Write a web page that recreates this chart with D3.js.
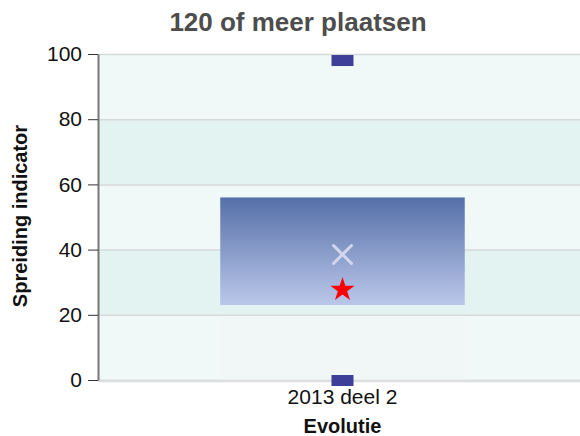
<!DOCTYPE html>
<html>
<head>
<meta charset="utf-8">
<script src="https://cdn.jsdelivr.net/npm/d3@7"></script>
<style>
  body { margin: 0; background: #fff; font-family: "Liberation Sans", Arial, sans-serif; }
</style>
</head>
<body>
<div id="chart"></div>
<script>
const categories = ["2013 deel 2"];
const boxLow = [23];
const boxHigh = [56];
const minValues = [0];
const maxValues = [98];
const meanValues = [38.5];
const ownValues = [28];
const yTicks = [0, 20, 40, 60, 80, 100];

const width = 580;
const height = 436;
const margin = { top: 54, right: 0, bottom: 56, left: 98 };

const svg = d3.select("#chart")
  .append("svg")
  .attr("width", width)
  .attr("height", height)
  .attr("font-family", "Liberation Sans, Arial, sans-serif");

const defs = svg.append("defs");
const grad = defs.append("linearGradient")
  .attr("id", "boxGrad")
  .attr("x1", 0).attr("y1", 0).attr("x2", 0).attr("y2", 1);
grad.append("stop").attr("offset", "0%").attr("stop-color", "#5670a8");
grad.append("stop").attr("offset", "100%").attr("stop-color", "#bac7ea");

const xScale = d3.scaleBand()
  .domain(categories)
  .range([margin.left, 587])
  .paddingInner(0)
  .paddingOuter(0.5);

const yScale = d3.scaleLinear()
  .domain([0, 100])
  .range([height - margin.bottom, margin.top]);

// alternating bands
const bandEdges = d3.pairs(yTicks);
svg.append("g")
  .selectAll("rect")
  .data(bandEdges)
  .join("rect")
  .attr("x", margin.left)
  .attr("width", width - margin.left)
  .attr("y", (d) => yScale(d[1]))
  .attr("height", (d) => yScale(d[0]) - yScale(d[1]))
  .attr("fill", (d, i) => (i % 2 === 0 ? "#f0f9f8" : "#e3f3f1"));

// gridlines
svg.append("g")
  .attr("transform", `translate(${margin.left}, 0)`)
  .call(d3.axisLeft(yScale).tickValues(yTicks).tickFormat("").tickSize(-(width - margin.left)))
  .call((g) => g.select(".domain").remove())
  .call((g) => g.selectAll("line").attr("stroke", "#d6d9d9").attr("stroke-width", 1.5));

// faint whisker column
svg.append("g")
  .selectAll("rect")
  .data(categories)
  .join("rect")
  .attr("x", (d) => xScale(d))
  .attr("width", xScale.bandwidth())
  .attr("y", (d, i) => yScale(20) + 1)
  .attr("height", (d, i) => yScale(minValues[i]) - yScale(20) - 1)
  .attr("fill", "#f3f5f5")
  .attr("opacity", 0.4);

// boxes
svg.append("g")
  .selectAll("rect")
  .data(categories)
  .join("rect")
  .attr("x", (d) => xScale(d))
  .attr("width", xScale.bandwidth())
  .attr("y", (d, i) => yScale(boxHigh[i]))
  .attr("height", (d, i) => yScale(boxLow[i]) - yScale(boxHigh[i]))
  .attr("fill", "url(#boxGrad)");

// bottom axis
svg.append("line")
  .attr("x1", margin.left)
  .attr("x2", width)
  .attr("y1", yScale(0) + 1)
  .attr("y2", yScale(0) + 1)
  .attr("stroke", "#dcdfdf")
  .attr("stroke-width", 2.5);

// min / max markers
const cx = (d) => xScale(d) + xScale.bandwidth() / 2;
const markers = svg.append("g");
markers.selectAll("rect.max")
  .data(categories)
  .join("rect")
  .attr("class", "max")
  .attr("x", (d) => cx(d) - 11)
  .attr("y", (d, i) => yScale(maxValues[i]) - 5.5)
  .attr("width", 22)
  .attr("height", 11)
  .attr("fill", "#3d3f98");
markers.selectAll("rect.min")
  .data(categories)
  .join("rect")
  .attr("class", "min")
  .attr("x", (d) => cx(d) - 11)
  .attr("y", (d, i) => yScale(minValues[i]) - 5)
  .attr("width", 22)
  .attr("height", 11)
  .attr("fill", "#3d3f98");

// mean cross
markers.selectAll("path.cross")
  .data(categories)
  .join("path")
  .attr("class", "cross")
  .attr("transform", (d, i) => `translate(${cx(d)}, ${yScale(meanValues[i])})`)
  .attr("d", "M-9,-9L9,9M-9,9L9,-9")
  .attr("stroke", "#d4d6ee")
  .attr("stroke-width", 3)
  .attr("stroke-linecap", "round");

// star
markers.selectAll("path.star")
  .data(categories)
  .join("path")
  .attr("class", "star")
  .attr("transform", (d, i) => `translate(${cx(d)}, ${yScale(ownValues[i]) + 1})`)
  .attr("d", d3.symbol(d3.symbolStar, 185))
  .attr("fill", "#ff0000");

// y axis
const yAxis = svg.append("g")
  .attr("transform", `translate(${margin.left}, 0)`)
  .call(d3.axisLeft(yScale).tickValues(yTicks).tickSize(10).tickSizeOuter(0).tickPadding(6));
yAxis.select(".domain").attr("stroke", "#777").attr("stroke-width", 2);
yAxis.selectAll(".tick line").attr("stroke", "#333");
yAxis.selectAll("text")
  .attr("font-family", "Liberation Sans, Arial, sans-serif")
  .attr("font-size", 21)
  .attr("fill", "#111");

// x axis labels
svg.append("g")
  .selectAll("text")
  .data(categories)
  .join("text")
  .attr("x", (d) => cx(d))
  .attr("y", 404)
  .attr("text-anchor", "middle")
  .attr("font-size", 21)
  .attr("fill", "#111")
  .text((d) => d);

svg.append("text")
  .attr("x", cx(categories[0]))
  .attr("y", 433)
  .attr("text-anchor", "middle")
  .attr("font-size", 20)
  .attr("font-weight", "bold")
  .attr("fill", "#111")
  .text("Evolutie");

svg.append("text")
  .attr("transform", "translate(27, 216) rotate(-90)")
  .attr("text-anchor", "middle")
  .attr("font-size", 20)
  .attr("font-weight", "bold")
  .attr("fill", "#111")
  .text("Spreiding indicator");

svg.append("text")
  .attr("x", 298)
  .attr("y", 31)
  .attr("text-anchor", "middle")
  .attr("font-size", 26)
  .attr("font-weight", "bold")
  .attr("fill", "#4d4d4d")
  .text("120 of meer plaatsen");
</script>
</body>
</html>
